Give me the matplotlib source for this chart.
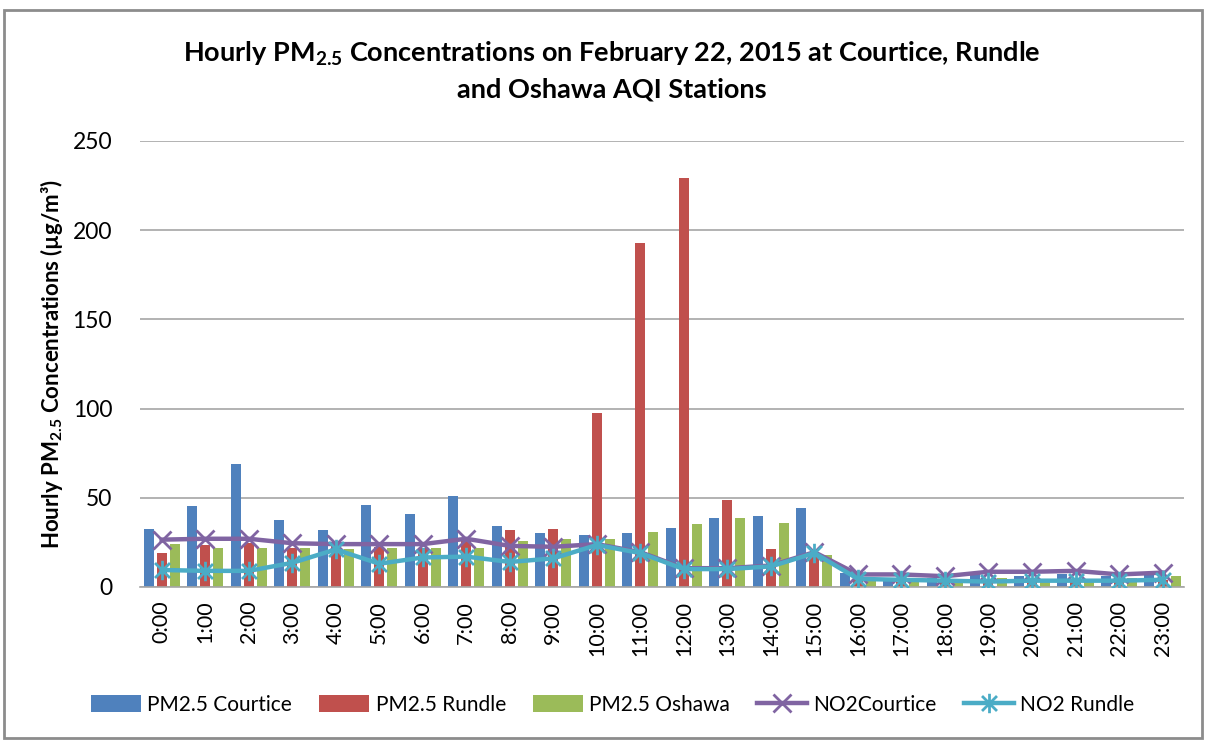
"""
Hourly PM2.5 concentrations on February 22, 2015 at Courtice, Rundle and Oshawa,
with the NO2 readings of Courtice and Rundle drawn as lines over the bars.
"""

import matplotlib
matplotlib.use('Agg')
import matplotlib.pyplot as plt
from matplotlib.path import Path
from matplotlib.patches import Rectangle
import numpy as np

plt.rcParams['font.family'] = ['Lato', 'DejaVu Sans']
plt.rcParams['mathtext.default'] = 'regular'

BLUE = '#4F81BD'
RED = '#C0504D'
GREEN = '#9BBB59'
PURPLE = '#8064A2'
CYAN = '#4BACC6'

hours = ["%d:00" % h for h in range(24)]

pm_courtice = [32.5, 45.5, 69, 37.5, 32, 46, 41, 51, 34, 30.5, 29, 30.5,
               33, 38.5, 40, 44, 8, 5, 5, 7, 6, 7, 6, 7]
pm_rundle = [19, 23.5, 24.5, 22, 25, 22.5, 22, 25.5, 32, 32.5, 97.5, 193,
             229.5, 49, 21, 19, 4, 3, 4, 4, 3, 4, 4, 4]
pm_oshawa = [24, 22, 22, 22, 21, 22, 22, 22, 26, 27, 27, 31,
             35, 38.5, 36, 18, 5, 5, 4, 5, 3, 4, 5, 6]
no2_courtice = [26.5, 27, 27, 24.5, 24, 24, 24, 27, 23, 22.5, 24, 19.5,
                10.5, 10.5, 12, 19.5, 7, 7, 6, 8.5, 8.5, 9, 7, 8]
no2_rundle = [9.5, 9, 9, 13.5, 21, 13, 16.5, 17, 14, 16, 23.5, 19,
              10, 10, 11.5, 19, 4.5, 4, 3.5, 3, 3.5, 3.5, 3.5, 4]

# Excel style "star" marker: an x with a vertical stroke
star = Path([(-1, -1), (1, 1), (-1, 1), (1, -1), (0, -1.3), (0, 1.3)],
            [Path.MOVETO, Path.LINETO, Path.MOVETO, Path.LINETO, Path.MOVETO, Path.LINETO])

fig = plt.figure(figsize=(12.06, 7.42), dpi=100)
ax = fig.add_axes([0.116, 0.209, 0.866, 0.601])

x = np.arange(len(hours))
w = 0.23
off = 0.3
b1 = ax.bar(x - off, pm_courtice, w, color=BLUE, label='PM2.5 Courtice', zorder=2)
b2 = ax.bar(x, pm_rundle, w, color=RED, label='PM2.5 Rundle', zorder=2)
b3 = ax.bar(x + off, pm_oshawa, w, color=GREEN, label='PM2.5 Oshawa', zorder=2)
l1, = ax.plot(x, no2_courtice, color=PURPLE, lw=3.2, marker='x', ms=13, mew=2,
              label='NO2Courtice', zorder=3)
l2, = ax.plot(x, no2_rundle, color=CYAN, lw=3.2, marker=star, ms=14, mew=2,
              label='NO2 Rundle', zorder=4)

ax.set_xlim(-0.5, 23.5)
ax.set_ylim(0, 250)
ax.set_yticks([0, 50, 100, 150, 200, 250])
ax.set_xticks(x)
ax.set_xticklabels(hours, rotation=90, fontsize=15.5)
ax.tick_params(axis='y', labelsize=16.5, length=0, pad=20)
ax.tick_params(axis='x', length=0, pad=10)
ax.yaxis.grid(True, color='#A6A6A6', lw=1.2, zorder=0)
ax.set_axisbelow(True)
for s in ['top', 'right', 'left']:
    ax.spines[s].set_visible(False)
ax.spines['bottom'].set_color('#A6A6A6')
ax.spines['bottom'].set_linewidth(1.2)

ax.set_ylabel('Hourly PM$_{2.5}$ Concentrations (µg/m³)', fontsize=16,
              fontweight='bold')
ax.yaxis.set_label_coords(-0.072, 0.5)

fig.text(0.507, 0.905, 'Hourly PM$_{2.5}$ Concentrations on February 22, 2015 at Courtice, Rundle\n'
         'and Oshawa AQI Stations', ha='center', va='center', fontsize=19.5,
         fontweight='bold', linespacing=1.45)

fig.legend([b1, b2, b3, l1, l2],
           ['PM2.5 Courtice', 'PM2.5 Rundle', 'PM2.5 Oshawa', 'NO2Courtice', 'NO2 Rundle'],
           loc='center', bbox_to_anchor=(0.508, 0.05), ncol=5, frameon=False,
           fontsize=15, handlelength=2.4, handleheight=0.9, columnspacing=1.3,
           handletextpad=0.3)

# chart area border
fig.patches.append(Rectangle((0.003, 0.006), 0.994, 0.98, transform=fig.transFigure,
                             fill=False, edgecolor='#8C8C8C', lw=2))

fig.savefig('out.png', dpi=100)
